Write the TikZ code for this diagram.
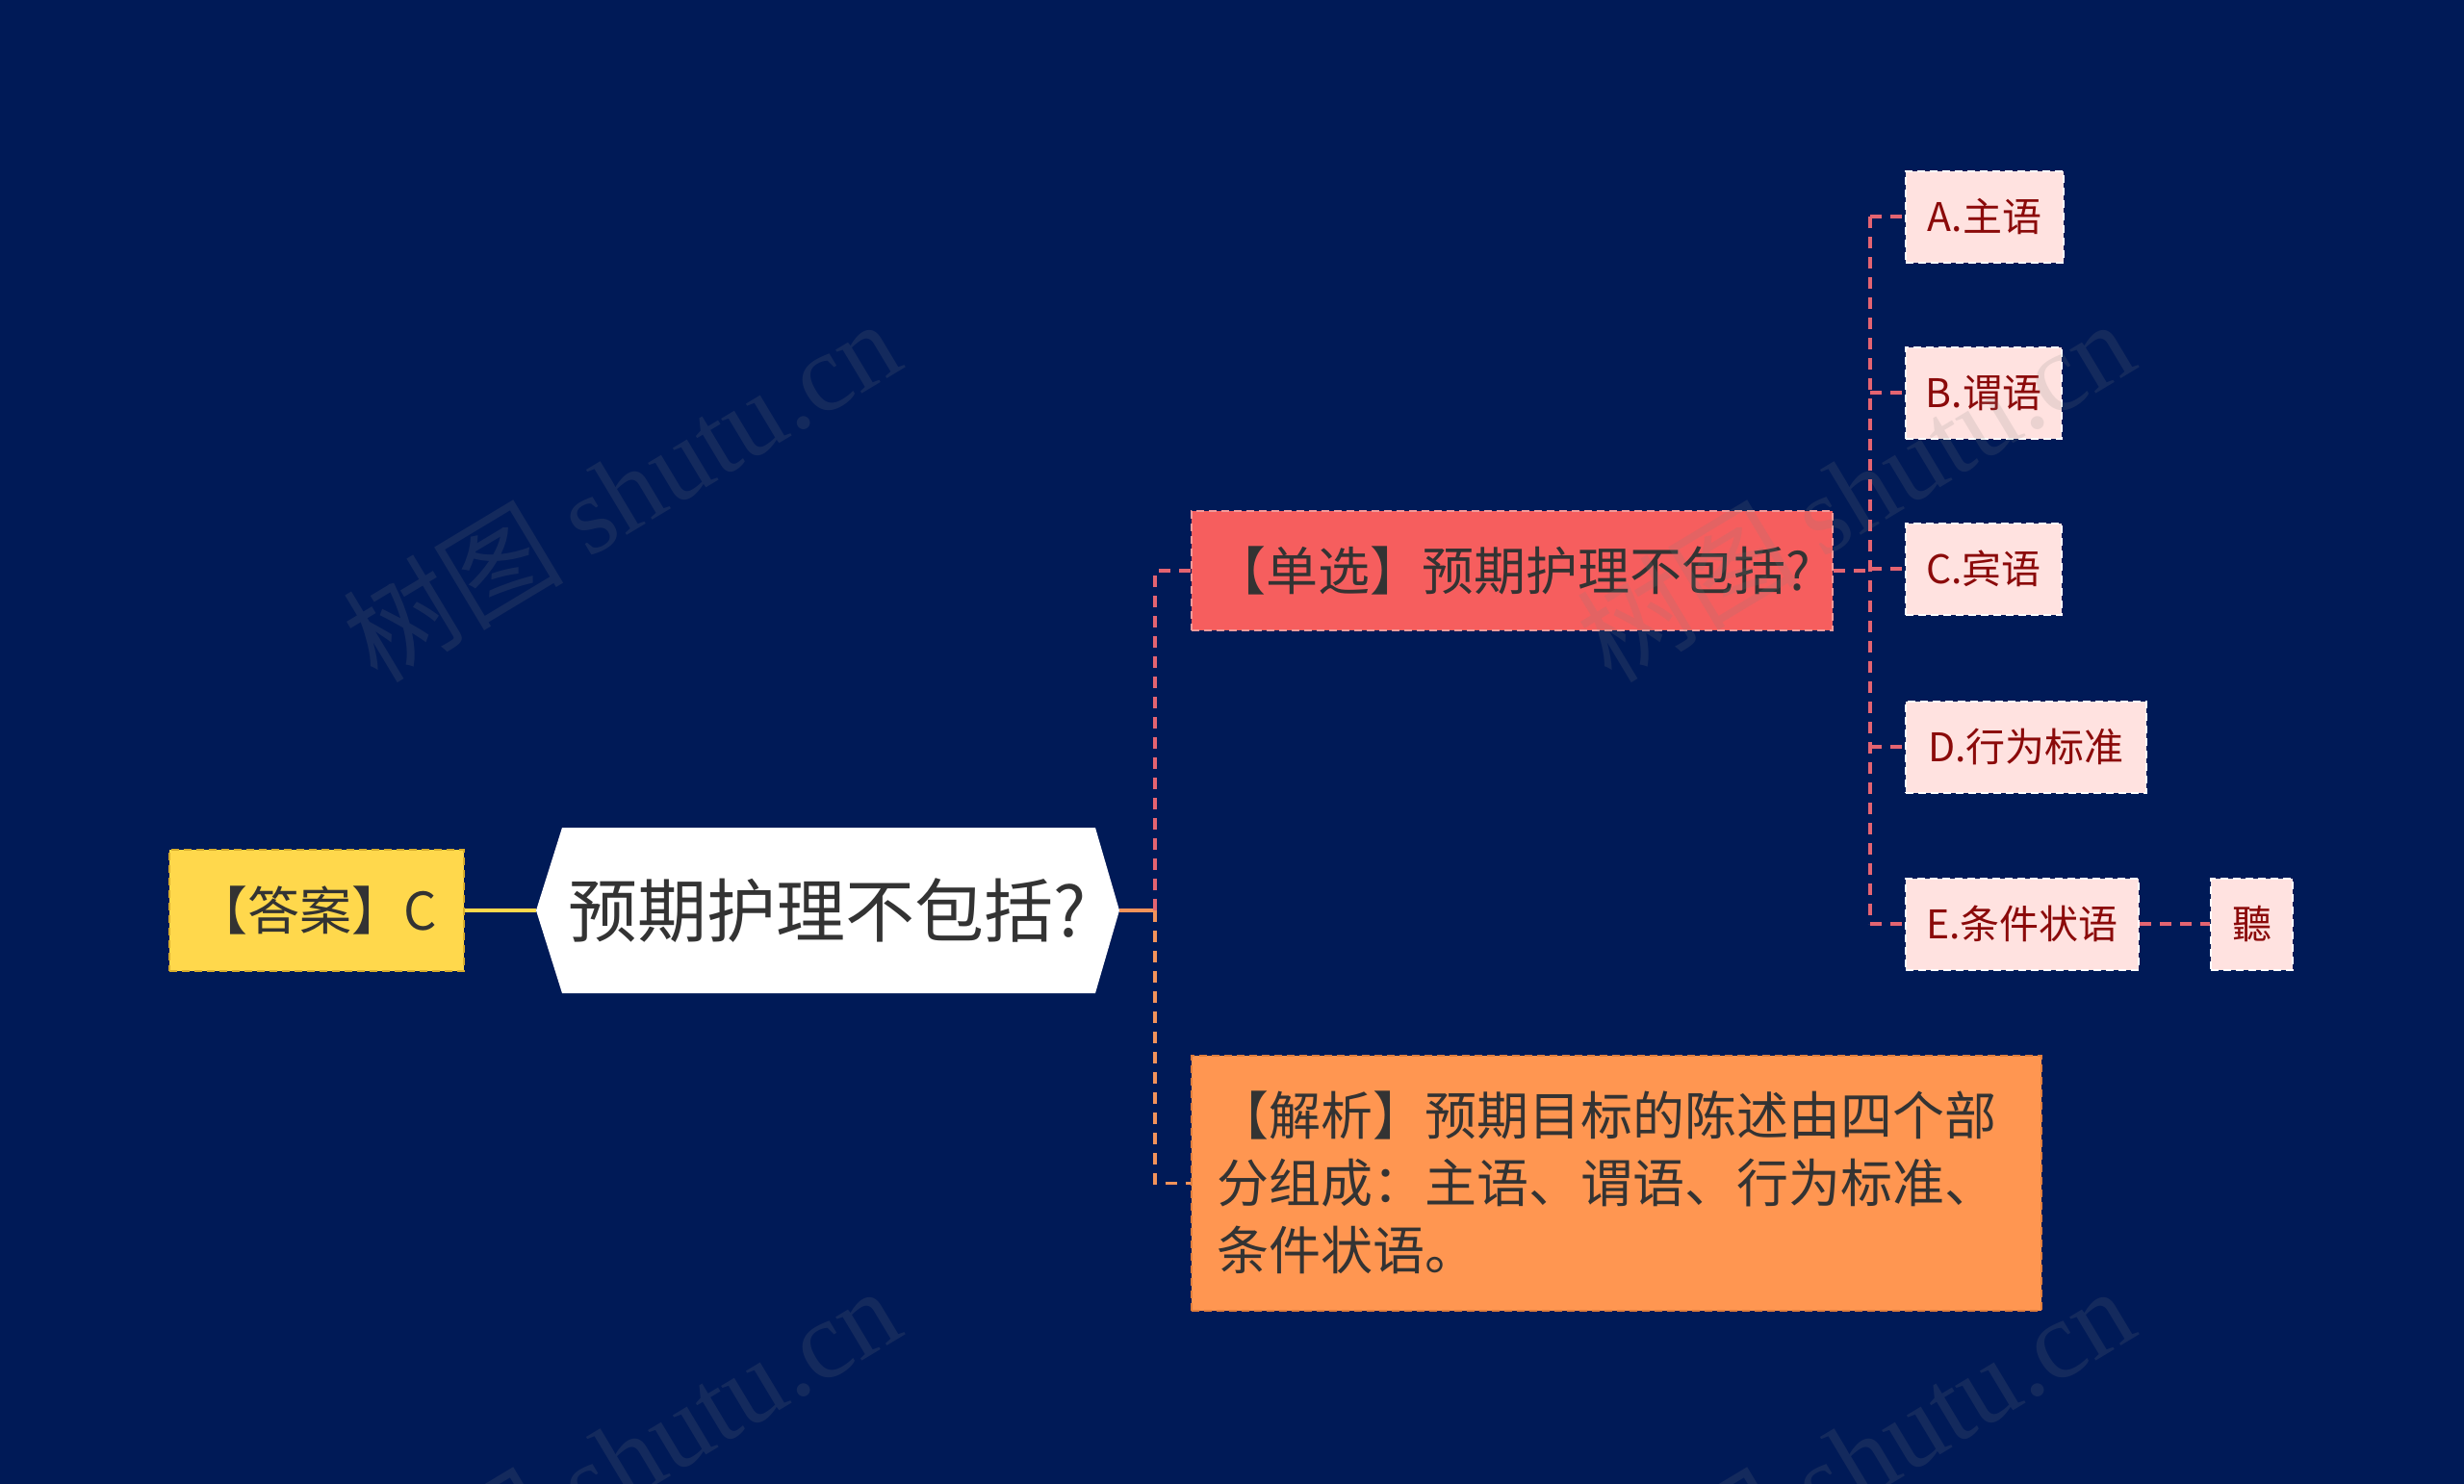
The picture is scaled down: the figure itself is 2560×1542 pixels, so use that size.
\documentclass[tikz,border=0pt]{standalone}
\usepackage{fontspec}
\setmainfont{Noto Sans CJK SC}
\newfontfamily\wmserif{Liberation Serif}
\usetikzlibrary{calc}
\definecolor{bgc}{HTML}{001A57}
\definecolor{ansfill}{HTML}{FFD84C}
\definecolor{ansborder}{HTML}{D9AE2C}
\definecolor{redfill}{HTML}{F65E5E}
\definecolor{redborder}{HTML}{F29A9A}
\definecolor{orfill}{HTML}{FF9651}
\definecolor{orborder}{HTML}{E07E3C}
\definecolor{optfill}{HTML}{FFE2E0}
\definecolor{optborder}{HTML}{FFFFFF}
\definecolor{opttext}{HTML}{8B0A0A}
\definecolor{darktext}{HTML}{333333}
\definecolor{linered}{HTML}{E46471}
\definecolor{lineor}{HTML}{F3935A}
\tikzset{
  boxbase/.style={rectangle, dash pattern=on 8pt off 5pt, line width=2pt, inner sep=0pt},
  ansbox/.style={boxbase, fill=ansfill, draw=ansborder, text=darktext,
     minimum width=306pt, minimum height=126pt, font=\fontsize{54}{64}\selectfont},
  singlebox/.style={boxbase, fill=redfill, draw=redborder, text=darktext,
     minimum width=666pt, minimum height=124pt, font=\fontsize{54}{64}\selectfont},
  anabox/.style={boxbase, fill=orfill, draw=orborder, text=darktext,
     minimum width=883pt, minimum height=265pt},
  optbox/.style={boxbase, fill=optfill, draw=optborder, text=opttext,
     minimum height=95pt, font=\fontsize{41}{49}\selectfont},
  redline/.style={draw=linered, line width=3.5pt, dash pattern=on 12pt off 9pt},
  orline/.style={draw=lineor, line width=3.5pt, dash pattern=on 12pt off 9pt},
  wm/.style={text=gray, opacity=0.16, rotate=31, font=\fontsize{115}{125}\selectfont},
}
\begin{document}
\begin{tikzpicture}[x=1pt,y=-1pt]
\fill[bgc] (0,0) rectangle (2560,1542);
\useasboundingbox (0,0) rectangle (2560,1542);

% main hexagon
\coordinate (mainL) at (557,946);
\coordinate (mainR) at (1163,946);
\fill[white] (mainL) -- (584,860) -- (1138,860) -- (mainR) -- (1138,1032) -- (584,1032) -- cycle;
\node[text=darktext, font=\fontsize{72}{86}\selectfont] (main) at (860,946) {预期护理不包括?};

% answer
\node[ansbox] (ans) at (329,946) {【答案】C};

% single choice and analysis
\node[singlebox] (single) at (1571,593) {【单选】预期护理不包括?};
\node[anabox] (ana) at (1679.5,1229.5) {};
\node[anchor=north west, align=left, text=darktext, inner sep=0pt,
      font=\fontsize{54}{70}\selectfont] (anatext) at (1264,1133)
  {【解析】预期目标的陈述由四个部\\分组成：主语、谓语、行为标准、\\条件状语。};

% options
\node[optbox, minimum width=164pt] (A) at (2062,225) {A.主语};
\node[optbox, minimum width=162pt] (B) at (2061,408) {B.谓语};
\node[optbox, minimum width=162pt] (C) at (2061,591) {C.宾语};
\node[optbox, minimum width=250pt] (D) at (2105,776) {D.行为标准};
\node[optbox, minimum width=242pt] (E) at (2101,960) {E.条件状语};
\node[optbox, minimum width=85pt] (T) at (2339.5,960) {聽};

% connectors
\coordinate (j1) at (1200,946);
\coordinate (j2) at (1943,593);
\draw[draw=ansfill, line width=4.5pt] (ans.east) -- (mainL);
\draw[draw=lineor, line width=4pt] (mainR) -- (j1);
\draw[redline] (j1) -- (j1 |- single.west) -- (single.west);
\draw[orline] (j1) -- (j1 |- ana.west) -- (ana.west);
\draw[redline] (single.east) -- (j2);
\draw[redline] (j2 |- A.west) -- (j2 |- E.west);
\foreach \n in {A,B,C,D,E} { \draw[redline] (j2 |- \n.west) -- (\n.west); }
\draw[redline] (E.east) -- (T.west);

% watermarks
\node[wm] (wm1) at (645,509) {树图 {\wmserif shutu.cn}};
\node[wm] (wm2) at (1927,509) {树图 {\wmserif shutu.cn}};
\node[wm] (wm3) at (645,1514) {树图 {\wmserif shutu.cn}};
\node[wm] (wm4) at (1927,1514) {树图 {\wmserif shutu.cn}};
\end{tikzpicture}
\end{document}
